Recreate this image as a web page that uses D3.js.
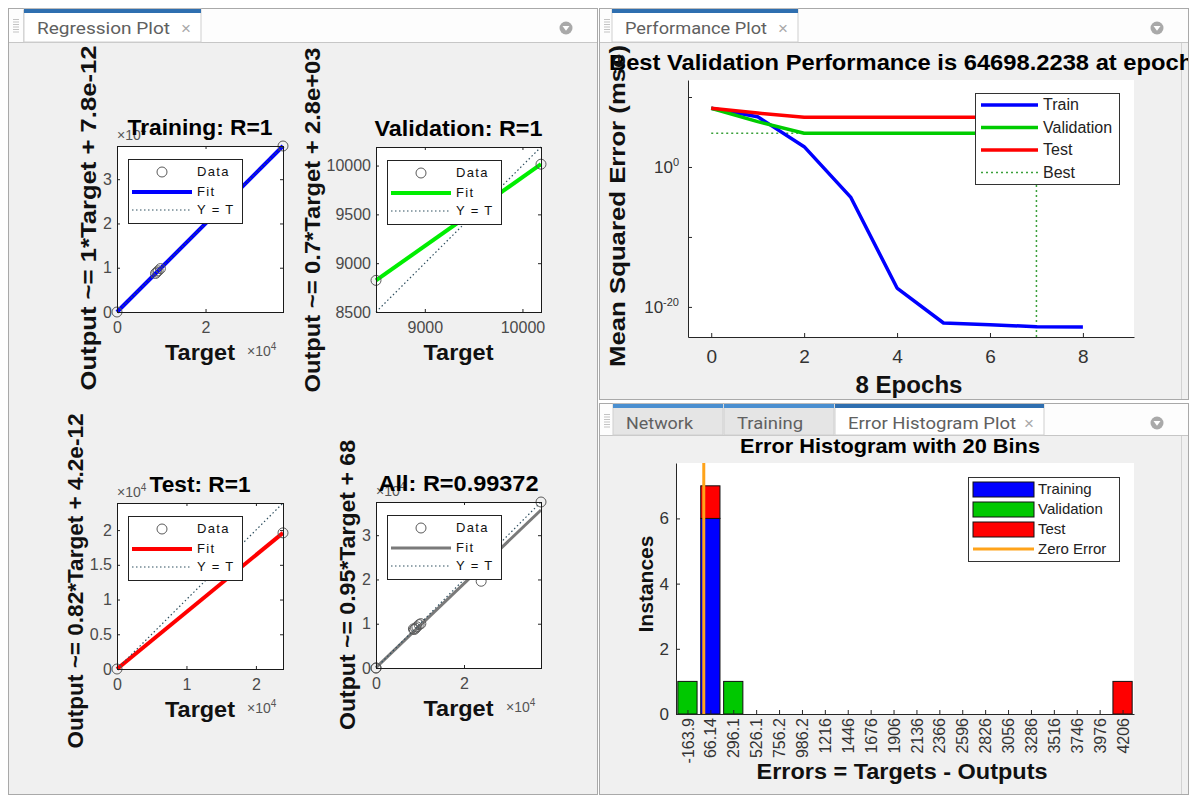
<!DOCTYPE html>
<html>
<head>
<meta charset="utf-8">
<script src="https://cdn.jsdelivr.net/npm/d3@7"></script>
<style>
  html, body { margin: 0; padding: 0; background: #ffffff; }
  svg { display: block; }
</style>
</head>
<body>
<svg id="chart" width="1198" height="797"></svg>
<script>
// ---------------- data ----------------
// Regression plots: Training, Validation, Test, All
const regNames = ["Training", "Validation", "Test", "All"];
const regR = ["1", "1", "1", "0.99372"];
const fitSlope = [1, 0.704, 0.82, 0.95];
const fitIntercept = [7.8e-12, 2840, 4.2e-12, 68];

const trainTargets = [0, 8700, 9000, 9300, 9800, 37500];
const trainOutputs = [0, 8700, 9000, 9300, 9800, 37500];
const valTargets = [8500, 10190];
const valOutputs = [8824, 10014];
const testTargets = [0, 23900];
const testOutputs = [0, 19598];

const regXTicks = [[0, 20000], [9000, 10000], [0, 10000, 20000], [0, 20000]];
const regYTicks = [[0, 10000, 20000, 30000], [8500, 9000, 9500, 10000],
                   [0, 5000, 10000, 15000, 20000], [0, 10000, 20000, 30000]];
const regTickScale = [1e4, 1, 1e4, 1e4];

// Performance plot
const epochs = [0, 1, 2, 3, 4, 5, 6, 7, 8];
const perfTrain = [2.5e8, 1.5e7, 8e2, 5e-5, 5e-18, 5e-23, 2.8e-23, 1.5e-23, 1.3e-23];
const perfValidation = [2.5e8, 3e6, 6.6e4, 6.55e4, 6.52e4, 6.5e4, 6.49e4, 64698.2238, 6.48e4];
const perfTest = [2.5e8, 5e7, 1.3e7, 1.3e7, 1.3e7, 1.3e7, 1.3e7, 1.3e7, 1.3e7];
const bestEpoch = 7;
const bestPerf = 64698.2238;
const perfXTicks = [0, 2, 4, 6, 8];
const perfYTicks = [1e10, 1e0, 1e-10, 1e-20];
const perfYLabelled = [0, -20];

// Error histogram (20 bins)
const binLabels = ["-163.9", "66.14", "296.1", "526.1", "756.2", "986.2", "1216", "1446", "1676", "1906",
                   "2136", "2366", "2596", "2826", "3056", "3286", "3516", "3746", "3976", "4206"];
const histTraining   = [0, 6, 0, 0, 0, 0, 0, 0, 0, 0, 0, 0, 0, 0, 0, 0, 0, 0, 0, 0];
const histValidation = [1, 0, 1, 0, 0, 0, 0, 0, 0, 0, 0, 0, 0, 0, 0, 0, 0, 0, 0, 0];
const histTest       = [0, 1, 0, 0, 0, 0, 0, 0, 0, 0, 0, 0, 0, 0, 0, 0, 0, 0, 0, 1];
const histYTicks = [0, 2, 4, 6];

// ---------------- helpers ----------------
const FONT = "'Liberation Sans', Arial, Helvetica, sans-serif";
const TABFONT = "Roboto, 'Open Sans', 'Liberation Sans', sans-serif";
const svg = d3.select("#chart");

// MATLAB-like %.2g formatting
function fmtG(v) {
  if (v === 0) return "0";
  const e = Math.floor(Math.log10(Math.abs(v)));
  if (e < -4 || e >= 2) {
    let [m, ex] = v.toExponential(1).split("e");
    m = m.replace(/\.0$/, "");
    const n = parseInt(ex, 10);
    return m + "e" + (n < 0 ? "-" : "+") + String(Math.abs(n)).padStart(2, "0");
  }
  return String(+v.toPrecision(2));
}

function styleAxis(sel, size, color) {
  sel.attr("font-family", FONT).attr("font-size", size);
  sel.selectAll("text").attr("fill", color);
  sel.selectAll("line").attr("stroke", "#262626");
}

// bold label stretched to the width MATLAB's renderer gives it
function boldText(g, s, size, len) {
  return g.append("text").attr("font-family", FONT).attr("font-weight", "bold")
    .attr("font-size", size).attr("fill", "#111111").attr("text-anchor", "middle")
    .attr("textLength", len).attr("lengthAdjust", "spacingAndGlyphs").text(s);
}

// ---------------- window chrome ----------------
svg.append("rect").attr("width", 1198).attr("height", 797).attr("fill", "#ffffff");

function drawPanel(p) {
  const g = svg.append("g");
  g.append("rect")
    .attr("x", p.x0 + 0.5).attr("y", p.y0 + 0.5)
    .attr("width", p.x1 - p.x0 - 1).attr("height", p.y1 - p.y0 - 1)
    .attr("fill", "#f0f0f0").attr("stroke", "#a9a9a9");
  g.append("rect")
    .attr("x", p.x0 + 1).attr("y", p.y0 + 1)
    .attr("width", p.x1 - p.x0 - 2).attr("height", p.barH - 1)
    .attr("fill", "#fdfdfd");
  g.append("line")
    .attr("x1", p.x0 + 1).attr("x2", p.x1 - 1)
    .attr("y1", p.y0 + p.barH + 0.5).attr("y2", p.y0 + p.barH + 0.5)
    .attr("stroke", "#c6c6c6");
  // grip
  g.append("line").attr("x1", p.x0 + 15.5).attr("x2", p.x0 + 15.5)
    .attr("y1", p.y0 + 2).attr("y2", p.y0 + p.barH).attr("stroke", "#dadada");
  for (let k = 0; k < 6; k++) {
    g.append("line")
      .attr("x1", p.x0 + 5).attr("x2", p.x0 + 11)
      .attr("y1", p.y0 + 11.5 + k * 2.5).attr("y2", p.y0 + 11.5 + k * 2.5)
      .attr("stroke", "#b4b4b4").attr("stroke-width", 0.8);
  }
  // tabs
  p.tabs.forEach(t => {
    const tg = g.append("g");
    tg.append("rect").attr("x", t.x0).attr("y", p.y0 + 1)
      .attr("width", t.x1 - t.x0).attr("height", p.barH - 1)
      .attr("fill", t.active ? "#ffffff" : "#e5e5e5")
      .attr("stroke", "#cfcfcf");
    tg.append("rect").attr("x", t.x0).attr("y", p.y0 + 1)
      .attr("width", t.x1 - t.x0).attr("height", 4)
      .attr("fill", t.active ? "#2f6fb0" : "#4a8fd0");
    tg.append("text").attr("x", t.x0 + 13).attr("y", p.y0 + 26)
      .attr("font-family", TABFONT).attr("font-size", 17)
      .attr("textLength", t.len).attr("lengthAdjust", "spacingAndGlyphs")
      .attr("fill", "#606060").text(t.label);
    if (t.close) {
      tg.append("text").attr("x", t.x1 - 20).attr("y", p.y0 + 26)
        .attr("font-family", FONT).attr("font-size", 17)
        .attr("fill", "#a8a8a8").text("\u00d7");
    }
  });
  // dropdown button
  const cx = p.x1 - 32, cy = p.y0 + 20;
  g.append("circle").attr("cx", cx).attr("cy", cy).attr("r", 6.5).attr("fill", "#a9a9a9");
  g.append("path").attr("d", `M${cx - 3.5},${cy - 2} L${cx + 3.5},${cy - 2} L${cx},${cy + 2.8} Z`)
    .attr("fill", "#ffffff");
  // content group, clipped
  const id = "clip" + p.id;
  svg.append("clipPath").attr("id", id).append("rect")
    .attr("x", p.x0 + 1).attr("y", p.y0 + p.barH + 1)
    .attr("width", p.x1 - p.x0 - 2).attr("height", p.y1 - p.y0 - p.barH - 2);
  const content = svg.append("g").attr("clip-path", `url(#${id})`);
  if (p.sideLine) {
    content.append("line").attr("x1", 1181.5).attr("x2", 1181.5)
      .attr("y1", p.y0 + p.barH).attr("y2", p.y1)
      .attr("stroke", "#d2d2d2");
  }
  return content;
}

const leftPanel = drawPanel({
  id: "L", x0: 8, x1: 598, y0: 8, y1: 795, barH: 34,
  tabs: [{ label: "Regression Plot", x0: 24, x1: 201, len: 133, active: true, close: true }]
});
const perfPanel = drawPanel({
  id: "P", x0: 599, x1: 1189, y0: 8, y1: 400, barH: 34, sideLine: true,
  tabs: [{ label: "Performance Plot", x0: 612, x1: 798, len: 142, active: true, close: true }]
});
const histPanel = drawPanel({
  id: "H", x0: 599, x1: 1189, y0: 403, y1: 795, barH: 32, sideLine: true,
  tabs: [
    { label: "Network", x0: 613, x1: 723, len: 67, active: false },
    { label: "Training", x0: 724, x1: 834, len: 66, active: false },
    { label: "Error Histogram Plot", x0: 835, x1: 1044, len: 168, active: true, close: true }
  ]
});

// ---------------- regression plots ----------------
const regLayout = [
  { x: 117, y: 146, w: 166, h: 166, titleLen: 145, yLabelCy: 218, yLabelLen: 345 },
  { x: 376, y: 147, w: 165, h: 165, titleLen: 168, yLabelCy: 220, yLabelLen: 345 },
  { x: 117, y: 503, w: 166, h: 166, titleLen: 101, yLabelCy: 581, yLabelLen: 335 },
  { x: 376, y: 502, w: 165, h: 166, titleLen: 160, yLabelCy: 585, yLabelLen: 290 }
];
const fitColors = ["#0000ff", "#00ee00", "#ff0000", "#7a7a7a"];
const fitWidths = [4, 4, 4, 3];

function times10(g, x, y, anchor) {
  const t = g.append("text").attr("x", x).attr("y", y)
    .attr("font-family", FONT).attr("font-size", 14).attr("fill", "#555555")
    .attr("text-anchor", anchor || "start");
  t.append("tspan").text("\u00d710");
  t.append("tspan").attr("font-size", 10).attr("dy", -6).text("4");
}

function drawRegression(g, k, targets, outputs) {
  const L = regLayout[k];
  const vals = targets.concat(outputs);
  const lo = d3.min(vals), hi = d3.max(vals);
  const x = d3.scaleLinear().domain([lo, hi]).range([L.x, L.x + L.w]);
  const y = d3.scaleLinear().domain([lo, hi]).range([L.y + L.h, L.y]);
  const sc = regTickScale[k];
  const fmtTick = v => String(+(v / sc).toFixed(3));

  g.append("rect").attr("x", L.x).attr("y", L.y).attr("width", L.w).attr("height", L.h)
    .attr("fill", "#ffffff");

  if (sc !== 1) times10(g, L.x, L.y - 6);

  // axes with inward ticks on all four sides
  const gb = g.append("g").attr("transform", `translate(0,${L.y + L.h})`)
    .call(d3.axisBottom(x).tickValues(regXTicks[k]).tickSizeInner(-3).tickSizeOuter(0)
      .tickPadding(10).tickFormat(fmtTick));
  const gt = g.append("g").attr("transform", `translate(0,${L.y})`)
    .call(d3.axisTop(x).tickValues(regXTicks[k]).tickSizeInner(-3).tickSizeOuter(0).tickFormat(""));
  const gl = g.append("g").attr("transform", `translate(${L.x},0)`)
    .call(d3.axisLeft(y).tickValues(regYTicks[k]).tickSizeInner(-3).tickSizeOuter(0)
      .tickPadding(5).tickFormat(fmtTick));
  const gr = g.append("g").attr("transform", `translate(${L.x + L.w},0)`)
    .call(d3.axisRight(y).tickValues(regYTicks[k]).tickSizeInner(-3).tickSizeOuter(0).tickFormat(""));
  [gb, gt, gl, gr].forEach(a => { a.select(".domain").remove(); styleAxis(a, 16, "#4a4a4a"); });

  // fit line
  g.append("line")
    .attr("x1", x(lo)).attr("y1", y(fitSlope[k] * lo + fitIntercept[k]))
    .attr("x2", x(hi)).attr("y2", y(fitSlope[k] * hi + fitIntercept[k]))
    .attr("stroke", fitColors[k]).attr("stroke-width", fitWidths[k]);
  // Y = T line
  g.append("line")
    .attr("x1", x(lo)).attr("y1", y(lo)).attr("x2", x(hi)).attr("y2", y(hi))
    .attr("stroke", "#2f4f5f").attr("stroke-width", 1.2).attr("stroke-dasharray", "1.5,2.5");
  // data points
  g.selectAll(null).data(targets.map((t, i) => [t, outputs[i]])).enter()
    .append("circle")
    .attr("cx", d => x(d[0])).attr("cy", d => y(d[1])).attr("r", 5)
    .attr("fill", "none").attr("stroke", "#5a5a5a").attr("stroke-width", 1);

  // frame
  g.append("rect").attr("x", L.x + 0.5).attr("y", L.y + 0.5).attr("width", L.w).attr("height", L.h)
    .attr("fill", "none").attr("stroke", "#1a1a1a").attr("stroke-width", 1);

  // legend
  const lg = g.append("g").attr("transform", `translate(${L.x + 11},${L.y + 13})`);
  lg.append("rect").attr("x", 0.5).attr("y", 0.5).attr("width", 114).attr("height", 64)
    .attr("fill", "#ffffff").attr("stroke", "#222222");
  lg.append("circle").attr("cx", 34).attr("cy", 13).attr("r", 5)
    .attr("fill", "none").attr("stroke", "#5a5a5a");
  lg.append("line").attr("x1", 4).attr("x2", 64).attr("y1", 33).attr("y2", 33)
    .attr("stroke", fitColors[k]).attr("stroke-width", fitWidths[k]);
  lg.append("line").attr("x1", 4).attr("x2", 64).attr("y1", 51).attr("y2", 51)
    .attr("stroke", "#2f4f5f").attr("stroke-width", 1.2).attr("stroke-dasharray", "1.5,2.5");
  [["Data", 17], ["Fit", 37], ["Y = T", 55]].forEach(([s, yy]) => {
    lg.append("text").attr("x", 69).attr("y", yy)
      .attr("font-family", FONT).attr("font-size", 13).attr("letter-spacing", 1.3)
      .attr("fill", "#111111").text(s);
  });

  // title
  boldText(g, `${regNames[k]}: R=${regR[k]}`, 22, L.titleLen)
    .attr("x", L.x + L.w / 2).attr("y", L.y - 11).attr("fill", "#000000");

  // x label
  boldText(g, "Target", 22, 70).attr("x", L.x + L.w / 2).attr("y", L.y + L.h + 48);
  if (sc !== 1) times10(g, L.x + 130, L.y + L.h + 44);

  // y label, placed left of the tick labels
  const minX = gl.node().getBBox().x + L.x;
  boldText(g, `Output ~= ${fmtG(fitSlope[k])}*Target + ${fmtG(fitIntercept[k])}`, 22, L.yLabelLen)
    .attr("transform", `translate(${minX - 7},${L.yLabelCy}) rotate(-90)`);
}

drawRegression(leftPanel, 0, trainTargets, trainOutputs);
drawRegression(leftPanel, 1, valTargets, valOutputs);
drawRegression(leftPanel, 2, testTargets, testOutputs);
drawRegression(leftPanel, 3,
  trainTargets.concat(valTargets, testTargets),
  trainOutputs.concat(valOutputs, testOutputs));

// ---------------- performance plot ----------------
(function () {
  const g = perfPanel;
  const x = d3.scaleLinear().domain([-0.5, 9.1]).range([688, 1134]);
  const y = d3.scaleLog().domain([5e-25, 2.7e12]).range([337, 80]);

  g.append("rect").attr("x", 688).attr("y", 80).attr("width", 446).attr("height", 257)
    .attr("fill", "#ffffff");

  const ax = g.append("g").attr("transform", "translate(0,337)")
    .call(d3.axisBottom(x).tickValues(perfXTicks).tickSizeInner(-4).tickSizeOuter(0)
      .tickPadding(13).tickFormat(d3.format("d")));
  const ay = g.append("g").attr("transform", "translate(688,0)")
    .call(d3.axisLeft(y).tickValues(perfYTicks).tickSizeInner(-4).tickSizeOuter(0)
      .tickPadding(9).tickFormat(""));
  [ax, ay].forEach(a => {
    styleAxis(a, 19, "#333333");
    a.select(".domain").attr("stroke", "#262626");
  });
  // log tick labels as 10^n
  ay.selectAll(".tick").each(function (d) {
    const ex = Math.round(Math.log10(d));
    if (!perfYLabelled.includes(ex)) return;
    const t = d3.select(this).select("text");
    t.attr("font-size", 17);
    t.append("tspan").text("10");
    t.append("tspan").attr("font-size", 11).attr("dy", -7).text(ex);
  });

  // best marker (dotted)
  const bestColor = "#3aa03a";
  g.append("line").attr("x1", x(0)).attr("x2", x(bestEpoch))
    .attr("y1", y(bestPerf)).attr("y2", y(bestPerf))
    .attr("stroke", bestColor).attr("stroke-width", 1.5).attr("stroke-dasharray", "2,3");
  g.append("line").attr("x1", x(bestEpoch)).attr("x2", x(bestEpoch))
    .attr("y1", 337).attr("y2", y(bestPerf))
    .attr("stroke", bestColor).attr("stroke-width", 1.5).attr("stroke-dasharray", "2,3");

  const line = d3.line().x((d, i) => x(epochs[i])).y(d => y(d));
  [[perfTrain, "#0000ff"], [perfValidation, "#00cc00"], [perfTest, "#ff0000"]].forEach(([s, c]) => {
    g.append("path").attr("d", line(s)).attr("fill", "none")
      .attr("stroke", c).attr("stroke-width", 3.5).attr("stroke-linejoin", "round");
  });

  // legend
  const lg = g.append("g").attr("transform", "translate(975,93)");
  lg.append("rect").attr("x", 0.5).attr("y", 0.5).attr("width", 144).attr("height", 91)
    .attr("fill", "#ffffff").attr("stroke", "#333333");
  const items = [["Train", "#0000ff", null], ["Validation", "#00cc00", null],
                 ["Test", "#ff0000", null], ["Best", bestColor, "2,3"]];
  items.forEach(([s, c, dash], i) => {
    const yy = 12 + i * 22.5;
    lg.append("line").attr("x1", 6).attr("x2", 63).attr("y1", yy).attr("y2", yy)
      .attr("stroke", c).attr("stroke-width", dash ? 1.5 : 3.5)
      .attr("stroke-dasharray", dash);
    lg.append("text").attr("x", 68).attr("y", yy + 5)
      .attr("font-family", FONT).attr("font-size", 16).attr("fill", "#222222").text(s);
  });

  // labels
  boldText(g, `Best Validation Performance is ${bestPerf.toFixed(4)} at epoch ${bestEpoch}`, 22, 604)
    .attr("x", 911).attr("y", 70).attr("fill", "#000000");
  boldText(g, "Mean Squared Error  (mse)", 22, 322)
    .attr("transform", "translate(625,206) rotate(-90)");
  boldText(g, `${epochs[epochs.length - 1]} Epochs`, 23, 107).attr("x", 909).attr("y", 393);
})();

// ---------------- error histogram ----------------
(function () {
  const g = histPanel;
  const centers = binLabels.map(Number);
  const bw = (centers[centers.length - 1] - centers[0]) / (centers.length - 1);
  const x = d3.scaleLinear()
    .domain([centers[0] - bw / 2, centers[centers.length - 1] + bw / 2])
    .range([676, 1134]);
  const maxCount = d3.max(centers.map((c, i) => histTraining[i] + histValidation[i] + histTest[i]));
  const y = d3.scaleLinear().domain([0, maxCount * 1.1]).range([714, 463]);

  g.append("rect").attr("x", 676).attr("y", 463).attr("width", 458).attr("height", 251)
    .attr("fill", "#ffffff");

  const rows = centers.map((c, i) => ({ c, Training: histTraining[i], Validation: histValidation[i], Test: histTest[i] }));
  const keys = ["Training", "Validation", "Test"];
  const colors = { Training: "#0000ff", Validation: "#00c800", Test: "#ff0000" };
  const stacked = d3.stack().keys(keys)(rows);
  const barW = (x(bw) - x(0)) * 0.84;
  stacked.forEach(layer => {
    g.selectAll(null).data(layer.filter(d => d[1] > d[0])).enter().append("rect")
      .attr("x", d => x(d.data.c) - barW / 2).attr("width", barW)
      .attr("y", d => y(d[1])).attr("height", d => y(d[0]) - y(d[1]))
      .attr("fill", colors[layer.key]).attr("stroke", "#111111").attr("stroke-width", 1);
  });

  // zero error line
  g.append("line").attr("x1", x(0)).attr("x2", x(0)).attr("y1", y(0)).attr("y2", 463)
    .attr("stroke", "#ffa31a").attr("stroke-width", 3);

  const ax = g.append("g").attr("transform", "translate(0,714)")
    .call(d3.axisBottom(x).tickValues(centers).tickSizeInner(-4).tickSizeOuter(0)
      .tickFormat((d, i) => binLabels[i]));
  const ay = g.append("g").attr("transform", "translate(676,0)")
    .call(d3.axisLeft(y).tickValues(histYTicks).tickSizeInner(-4).tickSizeOuter(0).tickPadding(7));
  styleAxis(ax, 16, "#333333");
  styleAxis(ay, 17, "#333333");
  ax.select(".domain").attr("stroke", "#262626");
  ay.select(".domain").attr("stroke", "#262626");
  ax.selectAll("text")
    .attr("x", -4).attr("y", 0).attr("dy", "0.35em")
    .attr("transform", "rotate(-90)").attr("text-anchor", "end");

  // legend
  const lg = g.append("g").attr("transform", "translate(968,477)");
  lg.append("rect").attr("x", 0.5).attr("y", 0.5).attr("width", 151).attr("height", 84)
    .attr("fill", "#ffffff").attr("stroke", "#333333");
  keys.forEach((k, i) => {
    const yy = 12 + i * 20;
    lg.append("rect").attr("x", 5).attr("y", yy - 7).attr("width", 61).attr("height", 15)
      .attr("fill", colors[k]).attr("stroke", "#111111");
    lg.append("text").attr("x", 70).attr("y", yy + 5).attr("font-family", FONT)
      .attr("font-size", 15).attr("fill", "#222222").text(k);
  });
  lg.append("line").attr("x1", 5).attr("x2", 66).attr("y1", 72).attr("y2", 72)
    .attr("stroke", "#ffa31a").attr("stroke-width", 3);
  lg.append("text").attr("x", 70).attr("y", 77).attr("font-family", FONT)
    .attr("font-size", 15).attr("fill", "#222222").text("Zero Error");

  // labels
  boldText(g, `Error Histogram with ${centers.length} Bins`, 21, 300)
    .attr("x", 890).attr("y", 453).attr("fill", "#000000");
  boldText(g, "Instances", 21, 97).attr("transform", "translate(653,584) rotate(-90)");
  boldText(g, "Errors = Targets - Outputs", 22, 291).attr("x", 902).attr("y", 779);
})();
</script>
</body>
</html>
